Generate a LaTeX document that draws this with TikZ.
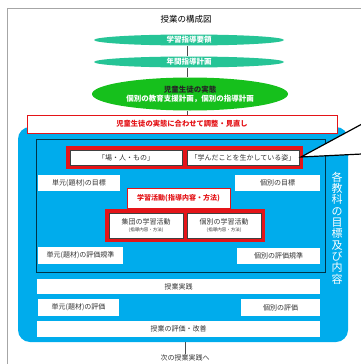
\documentclass[tikz,border=0pt]{standalone}
\usepackage{fontspec}
\setmainfont{Noto Sans CJK JP}
\usepackage{tikz}
\usetikzlibrary{shapes.geometric}
\definecolor{lensteal}{RGB}{38,196,150}
\definecolor{lensgreen}{RGB}{22,192,28}
\definecolor{panelblue}{RGB}{0,172,236}
\definecolor{planred}{RGB}{228,20,24}
\begin{document}
\begin{tikzpicture}[x=1pt,y=-1pt,
    txt/.style = {font=\fontsize{7}{8}\selectfont, text=black!80},
     wb/.style = {rectangle, fill=white, inner sep=0pt, txt},% white boxes on the blue panel
     ib/.style = {wb, draw=black!75, line width=0.6pt},% boxes inside red groups
    grp/.style = {rectangle, fill=planred, inner sep=0pt},
   lens/.style = {ellipse, fill=lensteal, inner sep=0pt, text=white,
                  font=\bfseries\fontsize{7.5}{9}\selectfont},
                        ]
\useasboundingbox (0,0) rectangle (360,364);
% frame of the page
\draw[black!35, line width=0.8pt] (7,364) -- (7,8) -- (361,8);
\node[font=\fontsize{8.5}{10}\selectfont] (title) at (186,19) {授業の構成図};
% blue panel
\node[rectangle, fill=panelblue, rounded corners=12pt, minimum width=330pt,
      minimum height=215pt] (panel) at (183,234.5) {};
\node[rectangle, draw=black!70!panelblue, line width=0.8pt, fill=panelblue,
      minimum width=289pt, minimum height=133pt] (inner) at (180.5,205.5) {};
% ellipses
\node[lens, minimum width=190pt, minimum height=11pt] (guide) at (189,40) {学習指導要領};
\node[lens, minimum width=190pt, minimum height=11pt] (annual) at (189,62) {年間指導計画};
\node[lens, fill=lensgreen, minimum width=196pt, minimum height=33pt, align=center]
     (state) at (190,94) {{\color{black!85}児童生徒の実態}\\個別の教育支援計画，個別の指導計画};
\node[rectangle, draw=planred, line width=0.8pt, fill=white, minimum width=310pt,
      minimum height=18pt, text=planred, font=\bfseries\fontsize{7.3}{8}\selectfont]
     (adjust) at (182,124) {児童生徒の実態に合わせて調整・見直し};
\draw[black!70, line width=0.7pt] (guide.south -| 187,0) -- (annual.north -| 187,0)
      (annual.south -| 187,0) -- (state.north -| 187,0)
      (state.south -| 187,0) -- (adjust.north -| 187,0);
% red group 1
\node[grp, minimum width=237pt, minimum height=23pt] (grpA) at (184.5,157.5) {};
\node[ib, minimum width=112pt, minimum height=15pt] (place) at (126,157.5) {「場・人・もの」};
\node[ib, minimum width=112pt, minimum height=15pt] (learnt) at (243,157.5) {「学んだことを生かしている姿」};
% goals
\node[wb, minimum width=82pt, minimum height=16pt] (goalU) at (79,183) {単元(題材)の目標};
\node[wb, minimum width=85pt, minimum height=16pt] (goalI) at (277.5,183) {個別の目標};
% learning activities
\node[wb, draw=planred, line width=0.6pt, text=planred, minimum width=103pt, minimum height=20pt,
      font=\bfseries\fontsize{7}{8}\selectfont] (activity) at (178.5,198) {学習活動(指導内容・方法)};
\node[grp, minimum width=160pt, minimum height=33pt] (grpB) at (185,225.5) {};
\foreach \n/\x/\t in {groupact/146/集団の学習活動, indivact/224/個別の学習活動}
    \node[ib, minimum width=74pt, minimum height=25pt, align=center] (\n) at (\x,225.5)
         {\t\\[-1pt]{\fontsize{4.5}{5}\selectfont (指導内容・方法)}};
% criteria, practice, evaluation
\node[wb, minimum width=85pt, minimum height=17pt] (critU) at (80.5,255.5) {単元(題材)の評価規準};
\node[wb, minimum width=83pt, minimum height=16pt] (critI) at (278.5,256) {個別の評価規準};
\node[wb, minimum width=283pt, minimum height=15pt] (practice) at (178.5,286.5) {授業実践};
\node[wb, minimum width=81pt, minimum height=17pt] (evalU) at (78.5,307.5) {単元(題材)の評価};
\node[wb, minimum width=79pt, minimum height=17pt] (evalI) at (280.5,307.5) {個別の評価};
\node[wb, minimum width=283pt, minimum height=16pt] (improve) at (178.5,329) {授業の評価・改善};
% vertical title of the panel
\node[text=white, align=center, inner sep=0pt,
      font=\fontsize{11}{11.3}\selectfont] (subject) at (337,228)
     {各\\教\\科\\の\\目\\標\\及\\び\\内\\容};
% next lesson
\node[txt, inner sep=1pt] (next) at (185,358) {次の授業実践へ};
\draw[black!70, line width=0.7pt] (panel.south -| next) -- (next.north);
% callout tail
\coordinate (tip) at (301,157);
\coordinate (tailA) at (362,124);
\coordinate (tailB) at (362,154);
\filldraw[fill=white, draw=black, line width=1.2pt] (tailA) -- (tip) -- (tailB);
\end{tikzpicture}
\end{document}
